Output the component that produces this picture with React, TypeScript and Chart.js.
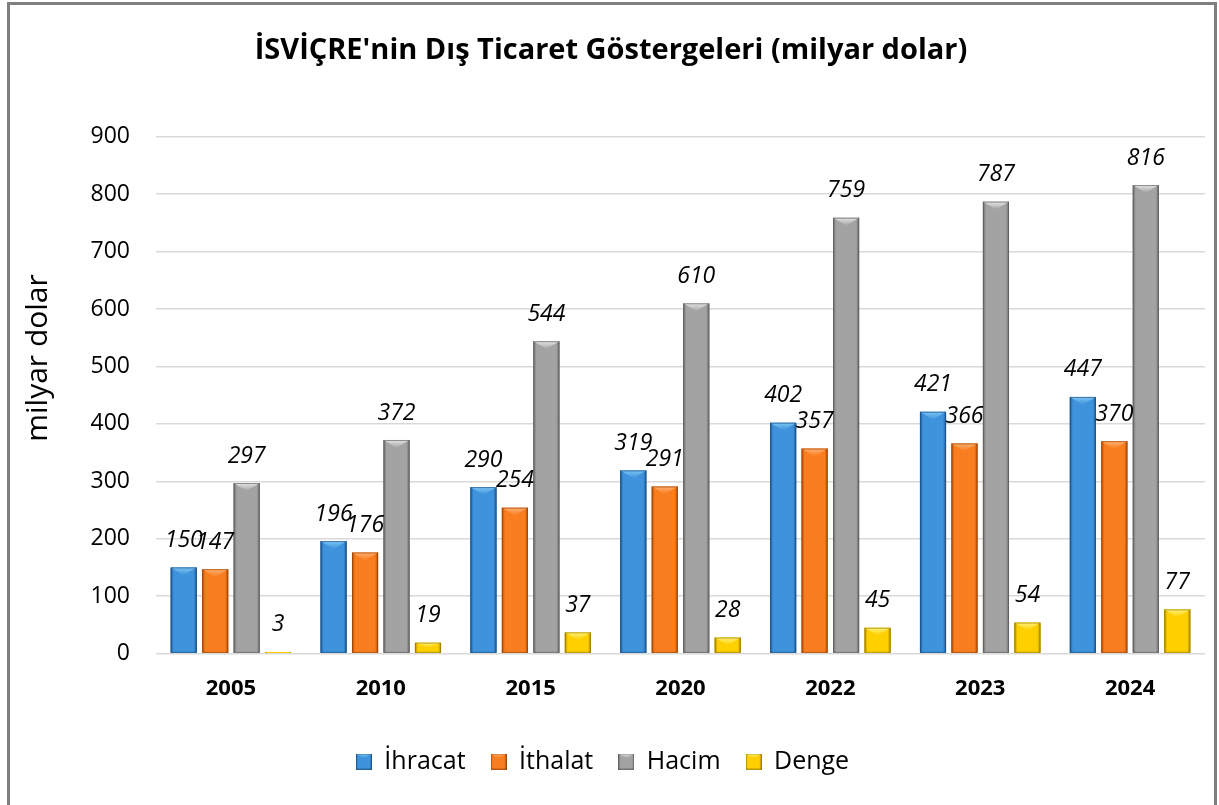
import React, { useEffect, useRef } from "react";
import { Chart, registerables } from "chart.js";

Chart.register(...registerables);

const years = ["2005", "2010", "2015", "2020", "2022", "2023", "2024"];
const ihracat = [150, 196, 290, 319, 402, 421, 447];
const ithalat = [147, 176, 254, 291, 357, 366, 370];
const hacim = [297, 372, 544, 610, 759, 787, 816];
const denge = [3, 19, 37, 28, 45, 54, 77];
const seriesNames = ["İhracat", "İthalat", "Hacim", "Denge"];
const chartTitle = "İSVİÇRE'nin Dış Ticaret Göstergeleri (milyar dolar)";
const yAxisTitle = "milyar dolar";
const yMin = 0;
const yMax = 900;
const yStep = 100;

const FONT = "'Open Sans', 'Noto Sans', sans-serif";

type Pal = { edge: string; mid: string; light: string; dark: string };
const palettes: Pal[] = [
  { edge: "#1d5a96", mid: "#3f93dc", light: "#7cc4f4", dark: "#174a7c" },
  { edge: "#b34d08", mid: "#f97e1f", light: "#ffb070", dark: "#8f3d06" },
  { edge: "#6a6a6a", mid: "#a3a3a3", light: "#e6e6e6", dark: "#555555" },
  { edge: "#b08c00", mid: "#ffd000", light: "#fff27a", dark: "#8c7000" },
];

function drawBevel(ctx: CanvasRenderingContext2D, left: number, top: number, w: number, h: number, p: Pal) {
  if (h <= 0 || w <= 0) return;
  ctx.save();
  const g = ctx.createLinearGradient(left, 0, left + w, 0);
  g.addColorStop(0, p.edge);
  g.addColorStop(0.12, p.mid);
  g.addColorStop(0.5, p.mid);
  g.addColorStop(0.88, p.mid);
  g.addColorStop(1, p.edge);
  ctx.fillStyle = g;
  ctx.fillRect(left, top, w, h);
  if (h > 4) {
    const th = Math.min(w * 0.3, h / 2);
    const tg = ctx.createLinearGradient(0, top, 0, top + th);
    tg.addColorStop(0, p.light);
    tg.addColorStop(1, p.mid);
    ctx.fillStyle = tg;
    ctx.beginPath();
    ctx.moveTo(left, top);
    ctx.lineTo(left + w, top);
    ctx.lineTo(left + w / 2, top + th);
    ctx.closePath();
    ctx.fill();
    ctx.strokeStyle = p.dark;
    ctx.globalAlpha = 0.6;
    ctx.lineWidth = 1;
    ctx.strokeRect(left + 0.5, top + 0.5, w - 1, h - 1);
  }
  ctx.restore();
}

function makeLegendIcon(p: Pal): HTMLCanvasElement {
  const c = document.createElement("canvas");
  c.width = 16;
  c.height = 16;
  const ctx = c.getContext("2d");
  if (ctx) drawBevel(ctx, 0, 0, 16, 16, p);
  return c;
}

const bevelPlugin = {
  id: "bevelBars",
  afterDatasetsDraw(chart: any) {
    const ctx = chart.ctx;
    chart.data.datasets.forEach((ds: any, i: number) => {
      const meta = chart.getDatasetMeta(i);
      meta.data.forEach((el: any) => {
        const left = el.x - el.width / 2;
        const top = Math.min(el.y, el.base);
        const h = Math.abs(el.base - el.y);
        drawBevel(ctx, left, top, el.width, h, palettes[i]);
      });
    });
  },
};

const valueLabelPlugin = {
  id: "valueLabels",
  afterDatasetsDraw(chart: any) {
    const ctx = chart.ctx;
    ctx.save();
    ctx.font = `italic 23px ${FONT}`;
    ctx.fillStyle = "#000";
    ctx.textAlign = "center";
    ctx.textBaseline = "middle";
    chart.data.datasets.forEach((ds: any, i: number) => {
      const meta = chart.getDatasetMeta(i);
      meta.data.forEach((el: any, j: number) => {
        ctx.fillText(String(ds.data[j]), el.x, el.y - 27);
      });
    });
    ctx.restore();
  },
};

const textPlugin = {
  id: "texts",
  afterDraw(chart: any) {
    const ctx = chart.ctx;
    ctx.save();
    ctx.fillStyle = "#000";
    ctx.textAlign = "center";
    ctx.textBaseline = "middle";
    ctx.font = `bold 29px ${FONT}`;
    ctx.fillText(chartTitle, 611, 51);
    ctx.translate(38, 358);
    ctx.rotate(-Math.PI / 2);
    ctx.font = `30px ${FONT}`;
    ctx.fillText(yAxisTitle, 0, 0);
    ctx.restore();
  },
};

export default function App() {
  const ref = useRef<HTMLCanvasElement | null>(null);
  useEffect(() => {
    document.body.style.margin = "0";
    if (!ref.current) return;
    const series = [ihracat, ithalat, hacim, denge];
    const icons = palettes.map(makeLegendIcon);
    const chart = new Chart(ref.current, {
      type: "bar",
      data: {
        labels: years,
        datasets: series.map((d, i) => ({
          label: seriesNames[i],
          data: d,
          backgroundColor: palettes[i].mid,
          borderWidth: 0,
          pointStyle: icons[i] as any,
          categoryPercentage: 0.84,
          barPercentage: 0.83,
        })),
      },
      options: {
        responsive: false,
        animation: false,
        layout: { padding: { left: 0, right: 14, top: 0, bottom: 21 } },
        plugins: {
          title: {
            display: true,
            text: chartTitle,
            color: "rgba(0,0,0,0)",
            font: { family: FONT, size: 29, weight: "bold" },
            padding: { top: 33, bottom: 69 },
          },
          legend: {
            position: "bottom",
            labels: {
              usePointStyle: true,
              boxWidth: 16,
              boxHeight: 16,
              color: "#000",
              font: { family: FONT, size: 25 },
              padding: 25,
            },
          },
          tooltip: { enabled: false },
        },
        scales: {
          x: {
            grid: { display: false, drawTicks: false },
            border: { display: false },
            ticks: {
              color: "#000",
              font: { family: FONT, size: 22, weight: "bold" },
              padding: 22,
            },
          },
          y: {
            min: yMin,
            max: yMax,
            afterFit: (s: any) => {
              s.width = 156;
            },
            ticks: {
              stepSize: yStep,
              color: "#000",
              font: { family: FONT, size: 23 },
              padding: 26,
            },
            grid: { color: "#d9d9d9", lineWidth: 1.5, drawTicks: false },
            border: { display: false },
          },
        },
      },
      plugins: [bevelPlugin, valueLabelPlugin, textPlugin],
    });
    return () => chart.destroy();
  }, []);

  return (
    <div style={{ position: "relative", width: 1219, height: 805, overflow: "hidden", background: "#fff" }}>
      <canvas ref={ref} width={1219} height={805} style={{ display: "block" }} />
      <div
        style={{
          position: "absolute",
          left: 7,
          top: 2,
          width: 1210,
          height: 820,
          border: "3px solid #808080",
          boxSizing: "border-box",
          pointerEvents: "none",
        }}
      />
    </div>
  );
}
